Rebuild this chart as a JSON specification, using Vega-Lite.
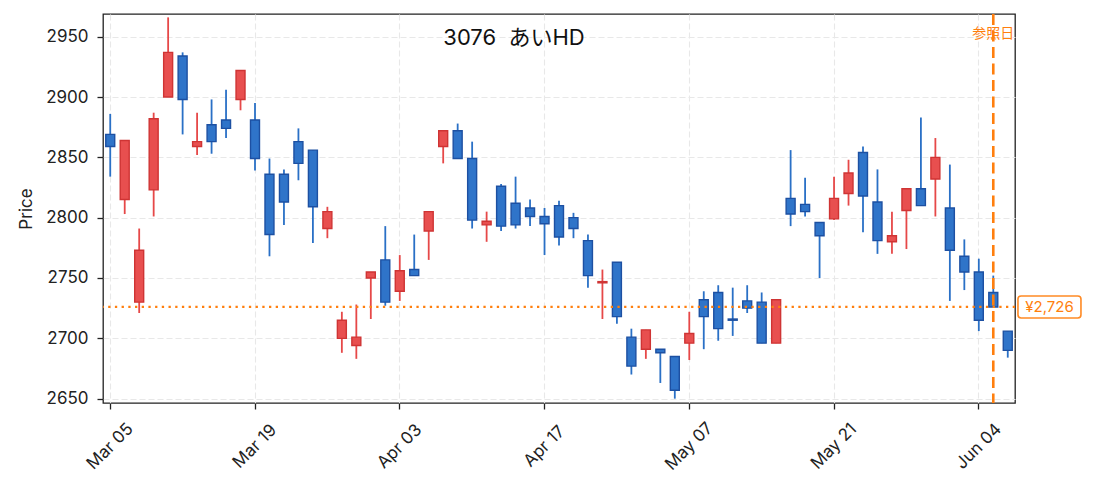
{
  "$schema": "https://vega.github.io/schema/vega-lite/v6.json",
  "autosize": {"type": "none"},
  "width": 912,
  "height": 389,
  "padding": {"left": 103, "top": 14, "right": 78, "bottom": 88},
  "background": "white",
  "title": {
    "text": "3076 \u00a0あいHD",
    "anchor": "middle",
    "frame": "group",
    "orient": "top",
    "offset": 0,
    "dy": 54,
    "dx": -45,
    "baseline": "alphabetic",
    "font": "Inter, Noto Sans CJK JP",
    "fontSize": 22,
    "fontWeight": "normal",
    "color": "#111111"
  },
  "config": {
    "view": {"stroke": "#222222", "strokeWidth": 1.3},
    "axis": {
      "labelFont": "Inter, Noto Sans CJK JP",
      "titleFont": "Inter, Noto Sans CJK JP",
      "labelFontSize": 17,
      "titleFontSize": 17,
      "titleFontWeight": "normal",
      "labelColor": "#222222",
      "titleColor": "#222222",
      "tickColor": "#222222",
      "tickWidth": 1.3,
      "tickSize": 6,
      "domain": false,
      "grid": true,
      "gridColor": "#e8e8e8",
      "gridDash": [6, 3],
      "gridWidth": 1.1
    },
    "text": {"font": "Inter, Noto Sans CJK JP"}
  },
  "datasets": {
    "ohlc": [
      {"date": "2024-03-05", "open": 2869, "high": 2886, "low": 2834, "close": 2859},
      {"date": "2024-03-06", "open": 2815, "high": 2864, "low": 2803, "close": 2864},
      {"date": "2024-03-07", "open": 2730, "high": 2791, "low": 2721, "close": 2773},
      {"date": "2024-03-08", "open": 2823, "high": 2887, "low": 2801, "close": 2882},
      {"date": "2024-03-11", "open": 2900, "high": 2966, "low": 2900, "close": 2937},
      {"date": "2024-03-12", "open": 2934, "high": 2937, "low": 2869, "close": 2898},
      {"date": "2024-03-13", "open": 2859, "high": 2887, "low": 2852, "close": 2863},
      {"date": "2024-03-14", "open": 2877, "high": 2898, "low": 2853, "close": 2863},
      {"date": "2024-03-15", "open": 2881, "high": 2906, "low": 2866, "close": 2874},
      {"date": "2024-03-18", "open": 2898, "high": 2922, "low": 2889, "close": 2922},
      {"date": "2024-03-19", "open": 2881, "high": 2895, "low": 2839, "close": 2849},
      {"date": "2024-03-21", "open": 2836, "high": 2849, "low": 2768, "close": 2786},
      {"date": "2024-03-22", "open": 2836, "high": 2840, "low": 2794, "close": 2813},
      {"date": "2024-03-25", "open": 2863, "high": 2874, "low": 2831, "close": 2845},
      {"date": "2024-03-26", "open": 2856, "high": 2856, "low": 2779, "close": 2809},
      {"date": "2024-03-27", "open": 2791, "high": 2809, "low": 2783, "close": 2805},
      {"date": "2024-03-28", "open": 2700, "high": 2722, "low": 2688, "close": 2715},
      {"date": "2024-03-29", "open": 2694, "high": 2728, "low": 2683, "close": 2701},
      {"date": "2024-04-01", "open": 2750, "high": 2755, "low": 2716, "close": 2755},
      {"date": "2024-04-02", "open": 2765, "high": 2793, "low": 2727, "close": 2730},
      {"date": "2024-04-03", "open": 2739, "high": 2769, "low": 2731, "close": 2756},
      {"date": "2024-04-04", "open": 2757, "high": 2786, "low": 2752, "close": 2752},
      {"date": "2024-04-05", "open": 2789, "high": 2805, "low": 2765, "close": 2805},
      {"date": "2024-04-08", "open": 2859, "high": 2872, "low": 2845, "close": 2872},
      {"date": "2024-04-09", "open": 2872, "high": 2878, "low": 2849, "close": 2849},
      {"date": "2024-04-10", "open": 2849, "high": 2863, "low": 2791, "close": 2798},
      {"date": "2024-04-11", "open": 2794, "high": 2805, "low": 2780, "close": 2797},
      {"date": "2024-04-12", "open": 2826, "high": 2828, "low": 2789, "close": 2793},
      {"date": "2024-04-15", "open": 2812, "high": 2834, "low": 2791, "close": 2794},
      {"date": "2024-04-16", "open": 2808, "high": 2815, "low": 2793, "close": 2801},
      {"date": "2024-04-17", "open": 2801, "high": 2808, "low": 2769, "close": 2795},
      {"date": "2024-04-18", "open": 2810, "high": 2814, "low": 2777, "close": 2784},
      {"date": "2024-04-19", "open": 2800, "high": 2804, "low": 2783, "close": 2791},
      {"date": "2024-04-22", "open": 2781, "high": 2786, "low": 2742, "close": 2752},
      {"date": "2024-04-23", "open": 2746, "high": 2757, "low": 2716, "close": 2747},
      {"date": "2024-04-24", "open": 2763, "high": 2763, "low": 2712, "close": 2718},
      {"date": "2024-04-25", "open": 2701, "high": 2708, "low": 2670, "close": 2677},
      {"date": "2024-04-26", "open": 2691, "high": 2707, "low": 2683, "close": 2707},
      {"date": "2024-05-01", "open": 2691, "high": 2691, "low": 2663, "close": 2688},
      {"date": "2024-05-02", "open": 2685, "high": 2685, "low": 2650, "close": 2657},
      {"date": "2024-05-07", "open": 2696, "high": 2722, "low": 2682, "close": 2704},
      {"date": "2024-05-08", "open": 2732, "high": 2739, "low": 2691, "close": 2718},
      {"date": "2024-05-09", "open": 2738, "high": 2744, "low": 2698, "close": 2708},
      {"date": "2024-05-10", "open": 2716, "high": 2742, "low": 2702, "close": 2715},
      {"date": "2024-05-13", "open": 2731, "high": 2744, "low": 2721, "close": 2725},
      {"date": "2024-05-14", "open": 2730, "high": 2738, "low": 2696, "close": 2696},
      {"date": "2024-05-15", "open": 2696, "high": 2732, "low": 2696, "close": 2732},
      {"date": "2024-05-16", "open": 2816, "high": 2856, "low": 2793, "close": 2803},
      {"date": "2024-05-17", "open": 2811, "high": 2833, "low": 2801, "close": 2805},
      {"date": "2024-05-20", "open": 2796, "high": 2796, "low": 2750, "close": 2785},
      {"date": "2024-05-21", "open": 2799, "high": 2834, "low": 2798, "close": 2816},
      {"date": "2024-05-22", "open": 2820, "high": 2848, "low": 2810, "close": 2837},
      {"date": "2024-05-23", "open": 2854, "high": 2859, "low": 2788, "close": 2818},
      {"date": "2024-05-24", "open": 2813, "high": 2840, "low": 2770, "close": 2781},
      {"date": "2024-05-27", "open": 2780, "high": 2805, "low": 2770, "close": 2785},
      {"date": "2024-05-28", "open": 2806, "high": 2824, "low": 2774, "close": 2824},
      {"date": "2024-05-29", "open": 2824, "high": 2883, "low": 2810, "close": 2810},
      {"date": "2024-05-30", "open": 2832, "high": 2866, "low": 2801, "close": 2850},
      {"date": "2024-05-31", "open": 2808, "high": 2844, "low": 2731, "close": 2773},
      {"date": "2024-06-03", "open": 2768, "high": 2782, "low": 2740, "close": 2755},
      {"date": "2024-06-04", "open": 2755, "high": 2766, "low": 2706, "close": 2715},
      {"date": "2024-06-05", "open": 2738, "high": 2752, "low": 2726, "close": 2726},
      {"date": "2024-06-06", "open": 2706, "high": 2706, "low": 2684, "close": 2690}
    ],
    "ref": [
      {"ref_date": "2024-06-05", "ref_price": 2726, "last_date": "2024-06-06", "price_label": "¥2,726", "date_label": "参照日", "label_y": 2952}
    ]
  },
  "layer": [
    {
      "data": {"name": "ohlc"},
      "mark": {"type": "rule", "strokeWidth": 1.8},
      "encoding": {
        "x": {
          "field": "date",
          "type": "ordinal",
          "scale": {"paddingInner": 0.38, "paddingOuter": 0.19},
          "axis": {
            "title": null,
            "values": ["2024-03-05", "2024-03-19", "2024-04-03", "2024-04-17", "2024-05-07", "2024-05-21", "2024-06-04"],
            "labelExpr": "utcFormat(toDate(datum.value), '%b %d')",
            "labelAngle": -45,
            "labelAlign": "center",
            "labelBaseline": "middle",
            "labelPadding": 37,
            "bandPosition": 0.5
          }
        },
        "y": {
          "field": "low",
          "type": "quantitative",
          "scale": {"domain": [2646.4, 2968.8], "nice": false, "zero": false},
          "axis": {
            "title": "Price",
            "format": "d",
            "values": [2650, 2700, 2750, 2800, 2850, 2900, 2950],
            "labelPadding": 9,
            "titlePadding": 10
          }
        },
        "y2": {"field": "high"},
        "color": {
          "condition": {"test": "datum.close >= datum.open", "value": "#e64848"},
          "value": "#2a70c6"
        }
      }
    },
    {
      "data": {"name": "ohlc"},
      "mark": {"type": "bar", "strokeWidth": 1.4},
      "encoding": {
        "x": {"field": "date", "type": "ordinal"},
        "y": {"field": "open", "type": "quantitative"},
        "y2": {"field": "close"},
        "fill": {
          "condition": {"test": "datum.close >= datum.open", "value": "#e84f4f"},
          "value": "#2f74c9"
        },
        "stroke": {
          "condition": {"test": "datum.close >= datum.open", "value": "#cf3434"},
          "value": "#1d50a2"
        }
      }
    },
    {
      "data": {"name": "ref"},
      "mark": {"type": "rule", "color": "#ff7f0e", "strokeWidth": 2.2, "strokeDash": [2.3, 4.4]},
      "encoding": {
        "y": {"field": "ref_price", "type": "quantitative"}
      }
    },
    {
      "data": {"name": "ref"},
      "mark": {"type": "rule", "color": "#ff7f0e", "strokeWidth": 2.6, "strokeDash": [11, 5.5]},
      "encoding": {
        "x": {"field": "ref_date", "type": "ordinal"}
      }
    },
    {
      "data": {"name": "ref"},
      "mark": {"type": "text", "color": "#ff7f0e", "fontSize": 14, "align": "center", "baseline": "middle"},
      "encoding": {
        "x": {"field": "ref_date", "type": "ordinal"},
        "y": {"field": "label_y", "type": "quantitative"},
        "text": {"field": "date_label"}
      }
    },
    {
      "data": {"name": "ref"},
      "mark": {
        "type": "point",
        "shape": "M-0.9,-0.35 L0.9,-0.35 Q1,-0.35 1,-0.25 L1,0.25 Q1,0.35 0.9,0.35 L-0.9,0.35 Q-1,0.35 -1,0.25 L-1,-0.25 Q-1,-0.35 -0.9,-0.35 Z",
        "size": 3969,
        "filled": true,
        "fill": "white",
        "stroke": "#ff8a24",
        "strokeWidth": 1.6,
        "opacity": 1,
        "xOffset": 41.7
      },
      "encoding": {
        "x": {"field": "last_date", "type": "ordinal"},
        "y": {"field": "ref_price", "type": "quantitative"}
      }
    },
    {
      "data": {"name": "ref"},
      "mark": {"type": "text", "color": "#ff7f0e", "fontSize": 15, "align": "center", "baseline": "middle", "dx": 41.7},
      "encoding": {
        "x": {"field": "last_date", "type": "ordinal"},
        "y": {"field": "ref_price", "type": "quantitative"},
        "text": {"field": "price_label"}
      }
    }
  ]
}
